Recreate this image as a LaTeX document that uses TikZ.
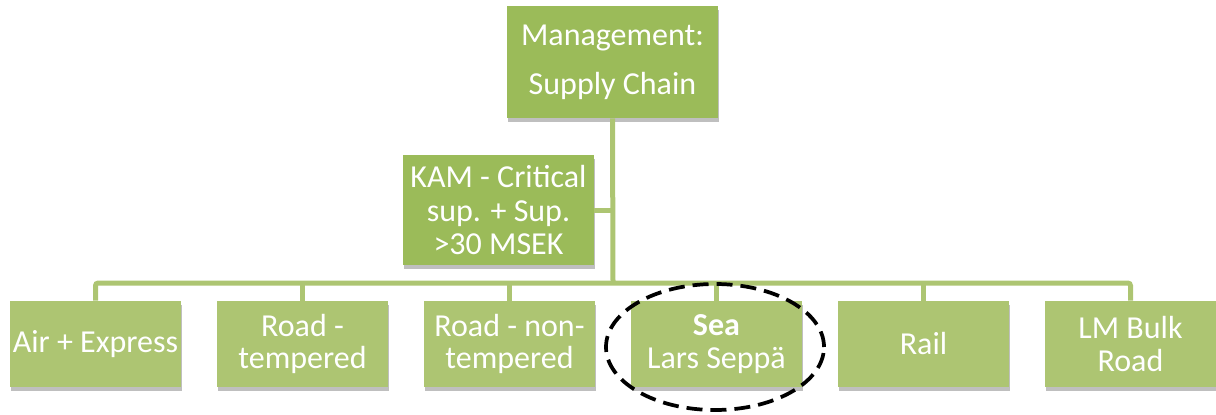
\documentclass[tikz,border=0pt]{standalone}
\usepackage{fontspec}
\setmainfont{Carlito}
\usepackage{tikz}
\usetikzlibrary{shadows}

\definecolor{olivedark}{HTML}{9BBB59}
\definecolor{olivelight}{HTML}{ADC572}

\tikzset{
  box/.style={fill=olivedark, text=white, align=center, inner sep=0pt,
    drop shadow={shadow xshift=1pt, shadow yshift=-3pt, opacity=.25, fill=black}},
  head/.style={box, minimum width=158.25pt, minimum height=84pt,
    font=\fontsize{24}{37}\selectfont},
  kambox/.style={box, minimum width=143.25pt, minimum height=82.5pt,
    font=\fontsize{24}{25}\selectfont},
  unit/.style={box, fill=olivelight, minimum width=128.25pt, minimum height=64.5pt,
    font=\fontsize{24}{24.5}\selectfont},
  link/.style={draw=olivelight, line width=3.75pt},
  highlight/.style={draw=black, line width=2.8pt, dash pattern=on 12pt off 6pt}
}

\begin{document}
\begin{tikzpicture}[x=0.75pt, y=-0.75pt]
\useasboundingbox (0,0) rectangle (1216,414);

% top of the chart
\draw(612.5,62) node[head] (mgmt) {Management:\\Supply Chain};
\draw(498.5,210) node[kambox] (kam) {KAM - Critical\\sup. + Sup.\\>30 MSEK};

% transport units
\draw(95.5,344) node[unit] (air) {Air + Express};
\draw(302.5,344) node[unit] (road) {Road -\\tempered};
\draw(509.5,344) node[unit] (nonroad) {Road - non-\\tempered};
\draw(716.5,344) node[unit] (sea) {\textbf{Sea}\\Lars Seppä};
\draw(923.5,344) node[unit] (rail) {Rail};
\draw(1130.5,344) node[unit] (bulk) {LM Bulk\\Road};

\coordinate (bus) at (613,283);

% connectors
\draw[link] (mgmt.south) -- (bus);
\draw[link] (kam.east) -- (kam.east -| bus);
\draw[link, rounded corners=2pt] (air.north) |- (bus) -| (bulk.north);
\draw[link] (road.north) -- (road.north |- bus);
\draw[link] (nonroad.north) -- (nonroad.north |- bus);
\draw[link] (sea.north) -- (sea.north |- bus);
\draw[link] (rail.north) -- (rail.north |- bus);

% the unit in focus
\draw[highlight] (715,347) ellipse [x radius=81.75pt, y radius=47.25pt];
\end{tikzpicture}
\end{document}
